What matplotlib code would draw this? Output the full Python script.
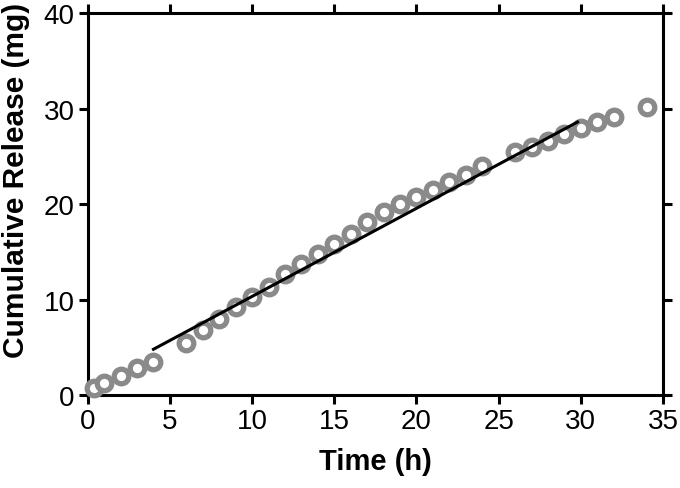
import numpy as np
import matplotlib
matplotlib.use('Agg')
from matplotlib import pyplot as plt

plt.rcParams['font.family'] = ['Liberation Sans', 'DejaVu Sans']

# measured release points
time_h = [0.4, 1.0, 2.0, 3.0, 4.0, 6.0, 7.0, 8.0, 9.0, 10.0, 11.0, 12.0, 13.0, 14.0,
          15.0, 16.0, 17.0, 18.0, 19.0, 20.0, 21.0, 22.0, 23.0, 24.0,
          26.0, 27.0, 28.0, 29.0, 30.0, 31.0, 32.0, 34.0]
release_mg = [0.7, 1.3, 2.0, 2.8, 3.5, 5.5, 6.8, 8.0, 9.2, 10.3, 11.3, 12.7, 13.7, 14.8,
              15.8, 16.9, 18.1, 19.2, 20.0, 20.7, 21.5, 22.3, 23.1, 24.0,
              25.5, 26.0, 26.6, 27.3, 28.0, 28.6, 29.1, 30.2]

# linear fit segment
fit_x = [4.0, 29.8]
fit_y = [4.8, 28.6]

xticks = [0, 5, 10, 15, 20, 25, 30, 35]
yticks = [0, 10, 20, 30, 40]

fig = plt.figure(figsize=(6.8, 4.89), dpi=100)
ax = fig.add_axes([0.129, 0.19, 0.846, 0.781])

ax.plot(time_h, release_mg, 'o', mfc='white', mec='#8a8a8a', ms=10.5, mew=3.8,
        zorder=3, clip_on=False)
ax.plot(fit_x, fit_y, '-', color='black', lw=2.2, zorder=4)

ax.set_xlim(0, 35)
ax.set_ylim(0, 40)
ax.set_xticks(xticks)
ax.set_yticks(yticks)
for s in ax.spines.values():
    s.set_linewidth(2.2)
ax.tick_params(direction='out', length=6.5, width=2.2, labelsize=20,
               top=True, right=True, pad=3)

ax.set_xlabel('Time (h)', fontsize=21, fontweight='bold', labelpad=9)
ax.set_ylabel('Cumulative Release (mg)', fontsize=21.5, fontweight='bold')
ax.yaxis.set_label_coords(-0.10, 0.565)

fig.savefig('out.png', dpi=100)
